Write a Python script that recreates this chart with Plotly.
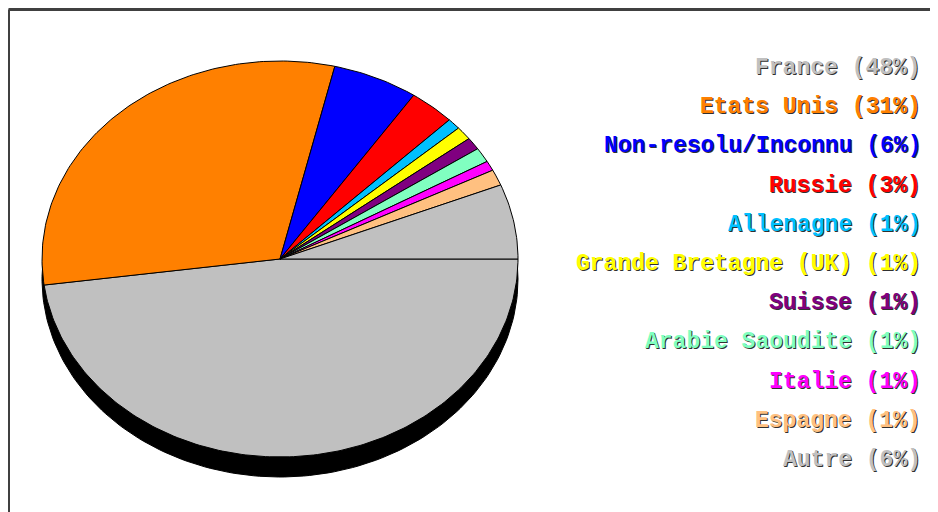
import numpy as np
import plotly.graph_objects as go

height_standard = 504
width_standard = 930

# share of visitors per country, in %, clockwise from 3 o'clock
countries = ['France', 'Etats Unis', 'Non-resolu/Inconnu', 'Russie', 'Allenagne',
             'Grande Bretagne (UK)', 'Suisse', 'Arabie Saoudite', 'Italie', 'Espagne', 'Autre']
shares = [47.9, 30.8, 5.8, 3.1, 0.9, 1.1, 1.0, 1.2, 0.8, 1.3, 6.1]
colors = ['#C0C0C0', '#FF8000', '#0000FF', '#FF0000', '#00C0FF',
          '#FFFF00', '#800080', '#80FFC0', '#FF00FF', '#FFC080', '#C0C0C0']

shadow_depth = 0.101  # pie thickness, in radius units


def countries_pie(names: list, values: list, palette: list) -> go.Figure:
    fig = skeleton()

    # black rim under the disc to fake the 3D look
    t = np.linspace(0, 2 * np.pi, 240)
    fig.add_trace(go.Scatter(
        x=np.cos(t), y=np.sin(t) - shadow_depth,
        fill='toself', fillcolor='#000000', mode='lines',
        line={'color': '#000000', 'width': 1}, hoverinfo='skip'
    ))

    total = sum(values)
    start = 0.0
    for name, value, color in zip(names, values, palette):
        a0 = -2 * np.pi * start / total
        a1 = -2 * np.pi * (start + value) / total
        arc = np.linspace(a0, a1, max(int(abs(a1 - a0) * 60), 4))
        fig.add_trace(go.Scatter(
            x=np.concatenate([[0], np.cos(arc), [0]]),
            y=np.concatenate([[0], np.sin(arc), [0]]),
            fill='toself', fillcolor=color, mode='lines',
            line={'color': '#000000', 'width': 1},
            name=name, hoverinfo='name'
        ))
        start += value

    for i, (name, value, color) in enumerate(zip(names, values, palette)):
        fig.add_annotation(
            x=915 / width_standard, y=1 - (60 + 39.2 * i) / height_standard,
            xref='paper', yref='paper', xanchor='right', yanchor='middle',
            text=f"<b>{name} ({round(value / total * 100)}%)</b>",
            showarrow=False,
            font={'family': 'Liberation Mono', 'size': 23, 'color': color,
                  'shadow': '1px 1px 0px #303030'}
        )

    fig.update_xaxes(range=[-1.1429, 2.7647])
    fig.update_yaxes(range=[-1.2778, 1.2677])

    return fig


def skeleton() -> go.Figure:
    fig = go.Figure()
    fig.update_layout(
        height=height_standard,
        width=width_standard,
        plot_bgcolor='#ffffff',
        paper_bgcolor='#ffffff',
        margin={'l': 0, 'r': 0, 't': 0, 'b': 0},
        showlegend=False
    )
    fig.update_xaxes(visible=False, showgrid=False)
    fig.update_yaxes(visible=False, showgrid=False)
    # frame around the chart
    fig.add_shape(type='line', xref='paper', yref='paper', x0=0.5 / width_standard, x1=1.05,
                  y0=1 - 1.5 / height_standard, y1=1 - 1.5 / height_standard,
                  line={'color': '#404040', 'width': 3})
    fig.add_shape(type='line', xref='paper', yref='paper', x0=0.5 / width_standard, x1=0.5 / width_standard,
                  y0=1 - 1.5 / height_standard, y1=-0.05,
                  line={'color': '#404040', 'width': 3})

    return fig


fig = countries_pie(countries, shares, colors)
fig.write_html("out.html")
